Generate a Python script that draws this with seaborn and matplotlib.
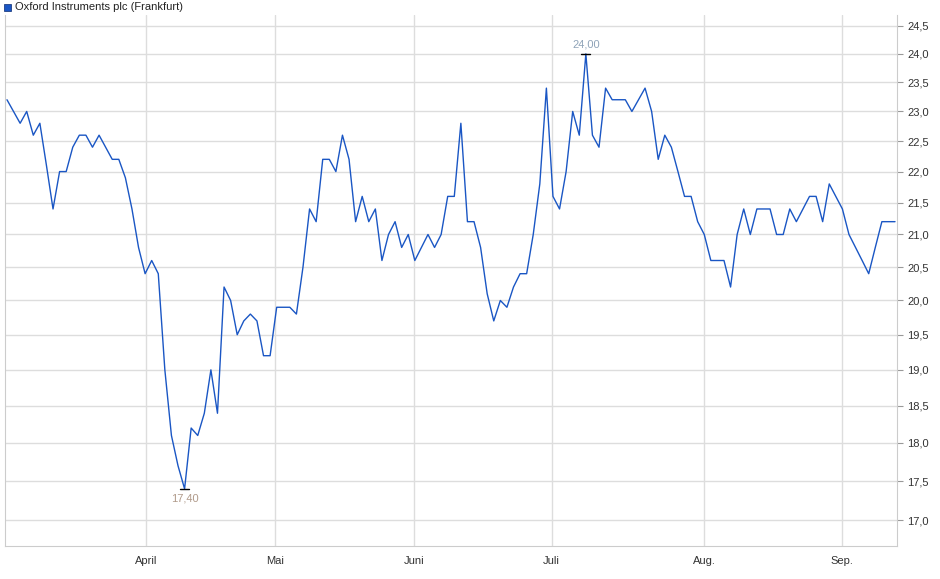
import numpy as np
import pandas as pd
import seaborn as sns
import matplotlib.pyplot as plt
from matplotlib.ticker import FixedLocator, NullLocator

# Oxford Instruments plc (Frankfurt), daily closes
prices = [23.2, 23.0, 22.8, 23.0, 22.6, 22.8, 22.1, 21.4, 22.0, 22.0,
          22.4, 22.6, 22.6, 22.4, 22.6, 22.4, 22.2, 22.2, 21.9, 21.4,
          20.8, 20.4, 20.6, 20.4, 19.0, 18.1, 17.7, 17.4, 18.2, 18.1,
          18.4, 19.0, 18.4, 20.2, 20.0, 19.5, 19.7, 19.8, 19.7, 19.2,
          19.2, 19.9, 19.9, 19.9, 19.8, 20.5, 21.4, 21.2, 22.2, 22.2,
          22.0, 22.6, 22.2, 21.2, 21.6, 21.2, 21.4, 20.6, 21.0, 21.2,
          20.8, 21.0, 20.6, 20.8, 21.0, 20.8, 21.0, 21.6, 21.6, 22.8,
          21.2, 21.2, 20.8, 20.1, 19.7, 20.0, 19.9, 20.2, 20.4, 20.4,
          21.0, 21.8, 23.4, 21.6, 21.4, 22.0, 23.0, 22.6, 24.0, 22.6,
          22.4, 23.4, 23.2, 23.2, 23.2, 23.0, 23.2, 23.4, 23.0, 22.2,
          22.6, 22.4, 22.0, 21.6, 21.6, 21.2, 21.0, 20.6, 20.6, 20.6,
          20.2, 21.0, 21.4, 21.0, 21.4, 21.4, 21.4, 21.0, 21.0, 21.4,
          21.2, 21.4, 21.6, 21.6, 21.2, 21.8, 21.6, 21.4, 21.0, 20.8,
          20.6, 20.4, 20.8, 21.2, 21.2, 21.2]
month_labels = ['April', 'Mai', 'Juni', 'Juli', 'Aug.', 'Sep.']
month_pos = [21.1, 40.7, 61.9, 82.8, 106.0, 126.9]
y_ticks = [17.0, 17.5, 18.0, 18.5, 19.0, 19.5, 20.0, 20.5, 21.0, 21.5,
           22.0, 22.5, 23.0, 23.5, 24.0, 24.5]

df = pd.DataFrame({'t': np.arange(len(prices)), 'price': prices})

sns.set_style('white')
plt.rcParams['font.family'] = ['Liberation Sans', 'DejaVu Sans']

fig = plt.figure(figsize=(9.4, 5.79), dpi=100)
ax = fig.add_axes([5/940, 33/579, 892/940, 531/579])
sns.lineplot(data=df, x='t', y='price', ax=ax, color='#1a56c4', linewidth=1)

ax.set_yscale('log')
ax.set_ylim(16.68, 24.70)
ax.set_xlim(-0.3, len(prices) - 0.7)
ax.yaxis.set_major_locator(FixedLocator(y_ticks))
ax.yaxis.set_minor_locator(NullLocator())
ax.set_yticklabels([f'{v:.1f}'.replace('.', ',') for v in y_ticks])
ax.yaxis.tick_right()
ax.set_xticks(month_pos)
ax.set_xticklabels(month_labels)
ax.tick_params(labelsize=8, colors='#333333', length=4, color='#999999')
ax.grid(True, color='#dddddd', linewidth=1)
ax.set_xlabel('')
ax.set_ylabel('')
for s in ax.spines.values():
    s.set_color('#cccccc')
ax.spines['top'].set_visible(False)

# high / low markers
i_max = int(np.argmax(prices))
i_min = int(np.argmin(prices))
ax.plot([i_max - 0.7, i_max + 0.7], [prices[i_max]] * 2, color='black', lw=1)
ax.plot([i_min - 0.7, i_min + 0.7], [prices[i_min]] * 2, color='black', lw=1)
ax.annotate(f'{prices[i_max]:.2f}'.replace('.', ','), (i_max, prices[i_max]),
            xytext=(0, 3), textcoords='offset points', ha='center', va='bottom',
            fontsize=8, color='#8fa3b8')
ax.annotate(f'{prices[i_min]:.2f}'.replace('.', ','), (i_min, prices[i_min]),
            xytext=(0, -3), textcoords='offset points', ha='center', va='top',
            fontsize=8, color='#b09a8a')

# legend
fig.patches.append(plt.Rectangle((4/940, 1 - 11/579), 7/940, 7/579, transform=fig.transFigure,
                                 facecolor='#1a56c4', edgecolor='#0a2a70', lw=0.5))
fig.text(15/940, 1 - 7.5/579, 'Oxford Instruments plc (Frankfurt)', fontsize=8,
         va='center', color='#222222')

fig.savefig('out.png', dpi=100)
